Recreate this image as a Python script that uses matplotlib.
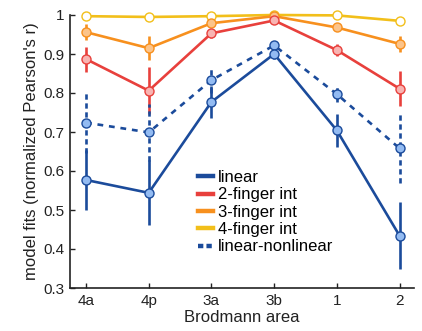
import matplotlib
matplotlib.use("Agg")
import matplotlib.pyplot as plt
from matplotlib.lines import Line2D

plt.rcParams['font.family'] = ['Liberation Sans', 'DejaVu Sans']

areas = ["4a", "4p", "3a", "3b", "1", "2"]

linear = [0.577, 0.544, 0.777, 0.900, 0.704, 0.434]
linear_err = [0.077, 0.083, 0.042, 0.012, 0.042, 0.086]

lin_nonlin = [0.724, 0.699, 0.833, 0.922, 0.797, 0.658]
lin_nonlin_err = [0.078, 0.074, 0.034, 0.010, 0.020, 0.090]

two_finger = [0.887, 0.806, 0.953, 0.986, 0.910, 0.811]
two_finger_err = [0.032, 0.060, 0.012, 0.006, 0.016, 0.045]

three_finger = [0.956, 0.915, 0.979, 0.997, 0.968, 0.926]
three_finger_err = [0.020, 0.030, 0.008, 0.004, 0.008, 0.020]

four_finger = [0.997, 0.995, 0.997, 1.000, 0.999, 0.985]
four_finger_err = [0.002, 0.003, 0.002, 0.001, 0.002, 0.004]

series = [
    ("4-finger int", four_finger, four_finger_err, "#f2bf1a", "#ffffff", "-"),
    ("3-finger int", three_finger, three_finger_err, "#f7901e", "#fcc48a", "-"),
    ("2-finger int", two_finger, two_finger_err, "#e8403c", "#f8b4b2", "-"),
    ("linear-nonlinear", lin_nonlin, lin_nonlin_err, "#1b4b9b", "#93bbf2", "--"),
    ("linear", linear, linear_err, "#1b4b9b", "#93bbf2", "-"),
]

fig = plt.figure(figsize=(4.22, 3.31), dpi=100)
ax = fig.add_axes([70/422, 1-288/331, (414-70)/422, (288-15)/331])

x = list(range(len(areas)))
for name, vals, err, col, fill, ls in series:
    eb = ax.errorbar(x, vals, yerr=err, color=col, lw=1.9, elinewidth=1.9,
                     marker='o', markersize=6.5, markerfacecolor=fill,
                     markeredgecolor=col, markeredgewidth=1.0, capsize=0,
                     clip_on=False, zorder=3)
    if ls == "--":
        eb[0].set_linestyle((0, (2.2, 2.2)))
        for c in eb[2]:
            c.set_linestyle((0, (2.0, 1.4)))

ax.set_xlim(-0.255, 5.23)
ax.set_ylim(0.3, 1.0)
ax.set_xticks(x)
ax.set_xticklabels(areas)
ax.set_yticks([0.3, 0.4, 0.5, 0.6, 0.7, 0.8, 0.9, 1.0])
ax.set_yticklabels(["0.3", "0.4", "0.5", "0.6", "0.7", "0.8", "0.9", "1"])
ax.spines['top'].set_visible(False)
ax.spines['right'].set_visible(False)
for s in ['left', 'bottom']:
    ax.spines[s].set_linewidth(1.2)
    ax.spines[s].set_color('#222222')
ax.tick_params(direction='in', length=3.5, width=1.0, labelsize=11, colors='#222222', pad=4)
ax.set_xlabel("Brodmann area", fontsize=12, color='#222222', labelpad=2)
ax.set_ylabel("model fits (normalized Pearson's r)", fontsize=12, color='#222222', labelpad=3)

handles = [
    Line2D([], [], color="#1b4b9b", lw=3.2),
    Line2D([], [], color="#e8403c", lw=3.2),
    Line2D([], [], color="#f7901e", lw=3.2),
    Line2D([], [], color="#f2bf1a", lw=3.2),
    Line2D([], [], color="#1b4b9b", lw=3.2, ls=(0, (1.2, 0.7))),
]
labels = ["linear", "2-finger int", "3-finger int", "4-finger int", "linear-nonlinear"]
leg = fig.legend(handles, labels, loc='upper left', bbox_to_anchor=(198/422, 1-170/331),
                 frameon=False, fontsize=12, handlelength=0.9, handletextpad=0.3,
                 labelspacing=0.14, borderpad=0, borderaxespad=0)

fig.savefig("out.png", dpi=100)
